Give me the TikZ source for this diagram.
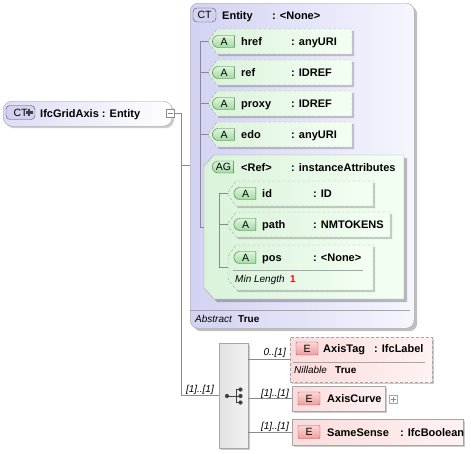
\documentclass[tikz,border=0pt]{standalone}
\usepackage{fontspec}
\setmainfont{Liberation Sans}
\usetikzlibrary{shadows,shapes.misc}
\definecolor{lav}{HTML}{D2D2F3}
\definecolor{lavr}{HTML}{F6F6FE}
\definecolor{lavroot}{HTML}{DCDCF6}
\definecolor{grnbox}{HTML}{DAF3DA}
\definecolor{grnboxl}{HTML}{F4FFF4}
\definecolor{grnbadge}{HTML}{A2DAA2}
\definecolor{grnbadgel}{HTML}{DDF4DD}
\definecolor{grnborder}{HTML}{3F7A3F}
\definecolor{pinkbox}{HTML}{FBDCDC}
\definecolor{pinkboxl}{HTML}{FFF2F2}
\definecolor{redbadge}{HTML}{EE9E9E}
\definecolor{redbadgel}{HTML}{FBD6D6}
\definecolor{redborder}{HTML}{B05858}
\definecolor{boxgray}{HTML}{A6A6A6}
\definecolor{linegray}{HTML}{8A8A8A}
\definecolor{ctborder}{HTML}{505070}
\definecolor{ctfill}{HTML}{D2D2EE}
\definecolor{seqfill}{HTML}{E2E2E2}
\definecolor{seqfilll}{HTML}{F2F2F2}
\definecolor{symgray}{HTML}{404040}
% chamfered box: name, style, x1, y1, x2, y2
\newcommand\chbox[6]{%
  \path[#2] (#3,#4+11) -- (#3+8,#4) -- (#5,#4) -- (#5,#6) -- (#3+8,#6) -- (#3,#6-11) -- cycle;
  \coordinate (#1) at (#3,{(#4+#6)/2});}
\begin{document}
\begin{tikzpicture}[x=1pt,y=-1pt,
  conn/.style={draw=linegray, line width=0.6pt},
  nm/.style={anchor=base west, inner sep=0pt, font=\fontsize{11}{13}\selectfont\bfseries},
  itx/.style={anchor=base west, inner sep=0pt, font=\fontsize{10}{12}\selectfont\itshape},
  btx/.style={anchor=base west, inner sep=0pt, font=\fontsize{10}{12}\selectfont\bfseries},
  card/.style={anchor=base east, inner sep=0pt, font=\fontsize{10}{12}\selectfont\itshape},
  shad/.style={drop shadow={shadow xshift=2pt, shadow yshift=-2pt, opacity=0.2, fill=black}},
  bigshad/.style={drop shadow={shadow xshift=3pt, shadow yshift=-3pt, opacity=0.25, fill=black}},
  attr/.style={draw=boxgray, dash pattern=on 3pt off 2pt, left color=grnbox, right color=grnboxl, shad},
  grp/.style={draw=boxgray, left color=grnbox, right color=grnboxl, bigshad},
  abadge/.style={rounded rectangle, rounded rectangle east arc=none, draw=grnborder, top color=grnbadgel, bottom color=grnbadge, minimum width=22pt, minimum height=12pt, inner sep=0pt, font=\fontsize{10.5}{12}\selectfont},
  ebadge/.style={rectangle, rounded corners=1pt, draw=redborder, top color=redbadgel, bottom color=redbadge, minimum width=22pt, minimum height=13pt, inner sep=0pt, font=\fontsize{10.5}{12}\selectfont},
  ctbadge/.style={rectangle, rounded corners=4pt, draw=ctborder, fill=ctfill, minimum height=14pt, inner sep=0pt, font=\fontsize{10.5}{12}\selectfont},
  elem/.style={rectangle, draw=boxgray, left color=pinkbox, right color=pinkboxl, anchor=north west, inner sep=0pt, shad},
  smallbox/.style={rectangle, draw=linegray, fill=white, minimum size=8pt, inner sep=0pt},
]
\useasboundingbox (0,0) rectangle (471,453);

% ---------- root ----------
\node[rectangle, rounded corners=9pt, draw=boxgray, left color=lavroot, right color=white, anchor=north west, minimum width=169pt, minimum height=25pt, inner sep=0pt, shad] (root) at (3,101) {};
\node[ctbadge, minimum width=29pt] (rootct) at (20.5,112.5) {CT\hspace{10pt}};
\draw[symgray, line width=2.4pt] (25.5,112.5) -- (33,112.5) (29.25,108.8) -- (29.25,116.2);
\node[nm] (rootname) at (40,117) {IfcGridAxis : Entity};
\node[smallbox] (minus) at (170,113) {};
\draw[linegray] ([xshift=-2.5pt]minus.center) -- ([xshift=2.5pt]minus.center);

% ---------- Entity ----------
\node[rectangle, rounded corners=8pt, draw=boxgray, left color=lav, right color=lavr, anchor=north west, minimum width=224pt, minimum height=325pt, inner sep=0pt, bigshad] (entity) at (190,3) {};
\node[ctbadge, minimum width=23pt] (entct) at (204.5,15) {CT};
\node[nm] (entname) at (222,19) {Entity};
\node[nm] (enttype) at (272,19) {: <None>};
\draw[boxgray] (190,310) -- (410,310);
\node[itx] (abs) at (195,322) {Abstract};
\node[btx] (abstrue) at (238,322) {True};

% attributes
\chbox{href}{attr}{209}{29}{352}{54}
\chbox{ref}{attr}{209}{60}{352}{85}
\chbox{proxy}{attr}{209}{91}{352}{116}
\chbox{edo}{attr}{209}{122}{352}{147}
\node[abadge] (bhref) at (224,41.5) {A};
\node[abadge] (bref) at (224,72.5) {A};
\node[abadge] (bproxy) at (224,103.5) {A};
\node[abadge] (bedo) at (224,134.5) {A};
\node[nm] (nhref) at (241,45.5) {href};
\node[nm] (thref) at (291,45.5) {: anyURI};
\node[nm] (nref) at (241,76.5) {ref};
\node[nm] (tref) at (291,76.5) {: IDREF};
\node[nm] (nproxy) at (241,107.5) {proxy};
\node[nm] (tproxy) at (291,107.5) {: IDREF};
\node[nm] (nedo) at (241,138.5) {edo};
\node[nm] (tedo) at (291,138.5) {: anyURI};

% attribute group
\path[grp] (204,166) -- (214,155) -- (404,155) -- (404,299) -- (214,299) -- (204,288) -- cycle;
\coordinate (agbox) at (204,227);
\node[abadge, minimum width=21pt] (bag) at (223.5,167) {AG};
\node[nm] (nag) at (241,171) {<Ref>};
\node[nm] (tag) at (291,171) {: instanceAttributes};

\chbox{id}{attr}{228}{181}{373}{206}
\chbox{path}{attr}{228}{212}{390}{237}
\chbox{pos}{attr}{228}{245}{373}{290}
\node[abadge] (bid) at (245.5,193.5) {A};
\node[abadge] (bpath) at (245.5,224.5) {A};
\node[abadge] (bpos) at (245.5,257.5) {A};
\node[nm] (nid) at (262,197.5) {id};
\node[nm] (tid) at (313,197.5) {: ID};
\node[nm] (npath) at (262,228.5) {path};
\node[nm] (tpath) at (313,228.5) {: NMTOKENS};
\node[nm] (npos) at (262,261.5) {pos};
\node[nm] (tpos) at (313,261.5) {: <None>};
\draw[boxgray] (233,270.5) -- (363,270.5);
\node[itx] (minlen) at (235,282) {Min Length};
\node[btx, text=red] (minval) at (290,282) {1};

% inner trees
\coordinate (tr1) at (200,0);
\coordinate (tr2) at (219,0);
\draw[conn] (agbox) -| (tr1 |- href) -- (href);
\draw[conn] (tr1 |- ref) -- (ref);
\draw[conn] (tr1 |- proxy) -- (proxy);
\draw[conn] (tr1 |- edo) -- (edo);
\draw[conn] (id) -| (tr2 |- pos) -- (pos);
\draw[conn] (tr2 |- path) -- (path);

% ---------- sequence ----------
\node[rectangle, draw=boxgray, left color=seqfill, right color=seqfilll, anchor=north west, minimum width=29pt, minimum height=105pt, inner sep=0pt, shad] (seq) at (219,343) {};
\fill[symgray] (227,396) circle (2.1pt);
\draw[symgray, line width=1pt] (227,396) -- (236,396) (236,389.5) -- (236,402.5) (236,389.5) -- (240,389.5) (236,402.5) -- (240,402.5) (236,396) -- (240,396);
\fill[symgray] (240.5,389.5) circle (2.1pt) (240.5,396) circle (2.1pt) (240.5,402.5) circle (2.1pt);

% main connectors
\draw[conn] (minus.east) -- ++(7,0) |- (seq.west);
\draw[conn] ([xshift=7pt]minus.east) |- (entity.west);
\node[card] (cmain) at (214,392) {[1]..[1]};

% ---------- elements ----------
\node[elem, dash pattern=on 3pt off 2pt, minimum width=142pt, minimum height=45pt] (axistag) at (290,337) {};
\draw[boxgray] (293,362) -- (425,362);
\node[ebadge] (baxistag) at (307,348.5) {E};
\node[nm] (naxistag) at (323,352.5) {AxisTag};
\node[nm] (taxistag) at (374,352.5) {: IfcLabel};
\node[itx] (nill) at (294,373) {Nillable};
\node[btx] (nilltrue) at (335,373) {True};

\node[elem, minimum width=93pt, minimum height=25pt] (axiscurve) at (292,386) {};
\node[ebadge] (baxiscurve) at (309,398.5) {E};
\node[nm] (naxiscurve) at (327,402.5) {AxisCurve};
\node[smallbox, draw=boxgray] (plusbox) at (393,399) {};
\draw[linegray] ([xshift=-2.5pt]plusbox.center) -- ([xshift=2.5pt]plusbox.center) ([yshift=-2.5pt]plusbox.center) -- ([yshift=2.5pt]plusbox.center);

\node[elem, minimum width=171pt, minimum height=26pt] (samesense) at (292,419) {};
\node[ebadge] (bsamesense) at (309,432) {E};
\node[nm] (nsamesense) at (327,436) {SameSense};
\node[nm] (tsamesense) at (400,436) {: IfcBoolean};

\draw[conn] (seq.east |- axistag.west) -- (axistag.west);
\draw[conn] (seq.east |- axiscurve.west) -- (axiscurve.west);
\draw[conn] (seq.east |- samesense.west) -- (samesense.west);
\node[card] (caxistag) at (286,355) {0..[1]};
\node[card] (caxiscurve) at (289,396) {[1]..[1]};
\node[card] (csamesense) at (289,429) {[1]..[1]};
\end{tikzpicture}
\end{document}
